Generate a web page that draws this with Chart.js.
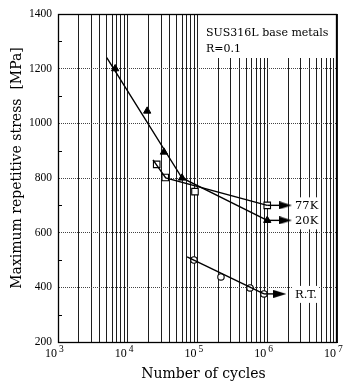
<!DOCTYPE html>
<html><head><meta charset="utf-8">
<script src="https://cdn.jsdelivr.net/npm/chart.js@4/dist/chart.umd.min.js"></script>
<style>html,body{margin:0;padding:0;background:#fff;}canvas{display:block;}</style>
</head><body>
<canvas id="c" width="357" height="389"></canvas>
<script>
// ---- data ----
const xGridValues = [1e3,2e3,3e3,4e3,5e3,6e3,7e3,8e3,9e3,
  1e4,2e4,3e4,4e4,5e4,6e4,7e4,8e4,9e4,
  1e5,2e5,3e5,4e5,5e5,6e5,7e5,8e5,9e5,
  1e6,2e6,3e6,4e6,5e6,6e6,7e6,8e6,9e6,1e7];
const xDecades = [1e3,1e4,1e5,1e6,1e7];
const xTickExponents = ['3','4','5','6','7'];
const yTickLabels = [200,400,600,800,1000,1200,1400];
const yMinorTicks = [300,500,700,900,1100,1300];

const cycles20K = [6.6e3, 1.9e4, 3.3e4, 6.0e4, 1.0e6];
const stress20K = [1200, 1045, 895, 800, 645];
const line20KCycles = [5.0e3, 6.0e4, 1.0e6];
const line20KStress = [1240, 800, 645];

const cycles77K = [2.6e4, 3.45e4, 9.2e4, 1.0e6];
const stress77K = [850, 802, 750, 700];
const line77KCycles = [2.3e4, 3.5e4, 1.0e6];
const line77KStress = [866, 800, 700];

const cyclesRT = [8.9e4, 2.17e5, 5.66e5, 8.97e5];
const stressRT = [500, 438, 398, 376];
const lineRTCycles = [7.1e4, 8.97e5];
const lineRTStress = [511, 376];

const runoutLabels = ['77K', '20K', 'R.T.'];
const runoutStartCycles = [1.0e6, 1.0e6, 8.97e5];
const runoutStress = [700, 645, 376];
const runoutEndCycles = [1.83e6, 1.83e6, 1.52e6];

const annotationLines = ['SUS316L base metals', 'R=0.1'];
const xTitle = 'Number of cycles';
const yTitle = 'Maximum repetitive stress  [MPa]';

// ---- helpers ----
const pts = (xs, ys) => xs.map((x, i) => ({x: x, y: ys[i]}));
const arrowHead = document.createElement('canvas');
arrowHead.width = 13; arrowHead.height = 8;
(function(){ const g = arrowHead.getContext('2d'); g.fillStyle = '#000'; g.beginPath(); g.moveTo(0,0); g.lineTo(13,4); g.lineTo(0,8); g.closePath(); g.fill(); })();

const lineDs = (data) => ({type:'scatter', data, showLine:true, borderColor:'#000', borderWidth:1.4, pointRadius:0, fill:false});
const datasets = [
  lineDs(pts(line20KCycles, line20KStress)),
  lineDs(pts(line77KCycles, line77KStress)),
  lineDs(pts(lineRTCycles, lineRTStress)),
];
runoutLabels.forEach((lab, i) => {
  datasets.push({type:'scatter', label: lab, data: pts([runoutStartCycles[i], runoutEndCycles[i]], [runoutStress[i], runoutStress[i]]),
    showLine:true, borderColor:'#000', borderWidth:1.4,
    pointStyle: (c) => c.dataIndex === 1 ? arrowHead : 'circle',
    pointRadius: (c) => c.dataIndex === 1 ? 6 : 0, isRunout: true});
});
datasets.push({data: pts(cycles20K, stress20K), pointStyle:'triangle', pointRadius:4.2, backgroundColor:'#000', borderColor:'#000', borderWidth:1});
datasets.push({data: pts(cycles77K, stress77K), pointStyle:'rect', pointRadius:4.6, backgroundColor:'#fff', borderColor:'#000', borderWidth:1.1});
datasets.push({data: pts(cyclesRT, stressRT), pointStyle:'circle', pointRadius:3.2, backgroundColor:'#fff', borderColor:'#000', borderWidth:1.1});

const serif = 'Liberation Serif';
const dserif = 'DejaVu Serif';

const decor = {
  id: 'decor',
  beforeDatasetsDraw(chart) {
    const {ctx, chartArea: a, scales} = chart;
    const xs = scales.x, ys = scales.y;
    ctx.save();
    // annotation box
    ctx.fillStyle = '#fff';
    ctx.fillRect(203, a.top + 1, a.right - 204, 57 - a.top);
    ctx.fillStyle = '#000';
    ctx.font = '11px "' + dserif + '"';
    ctx.textBaseline = 'middle'; ctx.textAlign = 'left';
    ctx.fillText(annotationLines[0], 206, 33.5);
    ctx.fillText(annotationLines[1], 206, 49);
    // runout labels
    const labelX = a.right - 42;
    ctx.font = '11.5px "' + dserif + '"';
    chart.data.datasets.forEach((ds, di) => {
      if (!ds.isRunout) return;
      const meta = chart.getDatasetMeta(di);
      const p = meta.data[1];
      const w = ctx.measureText(ds.label).width;
      ctx.fillStyle = '#fff';
      ctx.fillRect(labelX - 2, p.y - 8, w + 4, 17);
      ctx.fillStyle = '#000';
      ctx.fillText(ds.label, labelX, p.y + 1);
    });
    // minor y ticks
    ctx.strokeStyle = '#000'; ctx.lineWidth = 1;
    yMinorTicks.forEach(v => {
      const y = Math.round(ys.getPixelForValue(v)) + 0.5;
      ctx.beginPath(); ctx.moveTo(a.left, y); ctx.lineTo(a.left + 4, y); ctx.stroke();
    });
    // frame
    ctx.strokeStyle = '#000'; ctx.lineWidth = 1.3;
    ctx.strokeRect(a.left + 0.5, a.top + 0.5, a.right - a.left - 1, a.bottom - a.top);
    // x tick labels
    xDecades.forEach((v, i) => {
      const px = xs.getPixelForValue(v);
      ctx.font = '12px "' + serif + '"';
      ctx.textAlign = 'right'; ctx.textBaseline = 'alphabetic';
      ctx.fillText('10', px - 1, 357);
      ctx.font = '9.5px "' + serif + '"';
      ctx.textAlign = 'left';
      ctx.fillText(xTickExponents[i], px + 1, 352);
    });
    // axis titles
    ctx.font = '14px "' + dserif + '"';
    ctx.textAlign = 'center'; ctx.textBaseline = 'middle';
    ctx.fillText(xTitle, (a.left + a.right) / 2 + 6, 374);
    ctx.save();
    ctx.translate(17, 168);
    ctx.rotate(-Math.PI / 2);
    ctx.fillText(yTitle, 0, 0);
    ctx.restore();
    ctx.restore();
  }
};

new Chart(document.getElementById('c'), {
  type: 'scatter',
  data: {datasets},
  options: {
    responsive: false, animation: false, devicePixelRatio: 1,
    layout: {padding: {top: 14, right: 20, left: 0, bottom: 0}},
    plugins: {legend: {display: false}, tooltip: {enabled: false}},
    scales: {
      x: {
        type: 'logarithmic', min: 1e3, max: 1e7,
        afterBuildTicks: (s) => { s.ticks = xGridValues.map(v => ({value: v})); },
        afterFit: (s) => { s.height = 47; },
        ticks: {display: false},
        grid: {color: '#1e1e1e', lineWidth: 1, drawTicks: false},
        border: {display: true, color: '#000'}
      },
      y: {
        min: 200, max: 1400,
        afterBuildTicks: (s) => { s.ticks = yTickLabels.map(v => ({value: v})); },
        afterFit: (s) => { s.width = 58; },
        ticks: {color: '#000', padding: 6, font: {family: serif, size: 11.5}, callback: (v) => String(v)},
        grid: {color: '#444', lineWidth: 1, drawTicks: false},
        border: {display: true, color: '#000', dash: [1, 1]}
      }
    }
  },
  plugins: [decor]
});
</script>
</body></html>
